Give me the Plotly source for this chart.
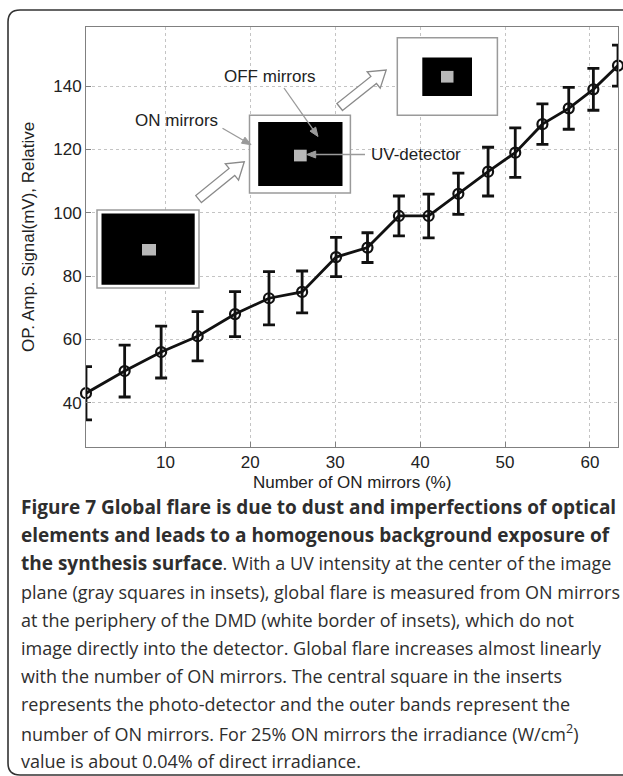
import math
import plotly.graph_objects as go

# ---------------- data ----------------
on_mirrors_pct = [0.65, 5.2, 9.5, 13.8, 18.2, 22.2, 26.1, 30.1, 33.8, 37.5,
                  41.0, 44.5, 48.0, 51.2, 54.4, 57.5, 60.4, 63.3]
signal_mv = [43, 50, 56, 61, 68, 73, 75, 86, 89, 99,
             99, 106, 113, 119, 128, 133, 139, 146.5]
signal_err = [8.4, 8.2, 8.2, 7.8, 7.1, 8.4, 6.6, 6.2, 4.7, 6.3,
              6.9, 6.5, 7.7, 7.8, 6.4, 6.6, 6.6, 6.5]
x_tick_vals = [10, 20, 30, 40, 50, 60]
y_tick_vals = [40, 60, 80, 100, 120, 140]

x_title = "Number of ON mirrors (%)"
y_title = "OP. Amp. Signal(mV), Relative"
BOLD = '<span style="font-size:19px"><b>{}</b></span>'
caption_lines = [
    BOLD.format("Figure 7 Global flare is due to dust and imperfections of optical"),
    BOLD.format("elements and leads to a homogenous background exposure of"),
    BOLD.format("the synthesis surface") + ". With a UV intensity at the center of the image",
    "plane (gray squares in insets), global flare is measured from ON mirrors",
    "at the periphery of the DMD (white border of insets), which do not",
    "image directly into the detector. Global flare increases almost linearly",
    "with the number of ON mirrors. The central square in the inserts",
    "represents the photo-detector and the outer bands represent the",
    "number of ON mirrors. For 25% ON mirrors the irradiance (W/cm<sup>2</sup>)",
    "value is about 0.04% of direct irradiance.",
]

# ---------------- geometry ----------------
W, H = 623, 776
L, R, T, B = 86, 618, 27, 447
XR = [0.65, 63.3]
YR = [26, 158.7]


def dx(px):
    return XR[0] + (px - L) / (R - L) * (XR[1] - XR[0])


def dy(py):
    return YR[0] + (B - py) / (B - T) * (YR[1] - YR[0])


def ppx(px):
    return (px - L) / (R - L)


def ppy(py):
    return (B - py) / (B - T)


fig = go.Figure()

fig.add_trace(go.Scatter(
    x=on_mirrors_pct, y=signal_mv,
    mode="lines+markers",
    line=dict(color="#111111", width=2.8),
    marker=dict(symbol="circle-open", size=10, color="#111111",
                line=dict(width=2.2, color="#111111")),
    error_y=dict(type="data", array=signal_err, visible=True,
                 color="#111111", thickness=2.8, width=6),
    cliponaxis=False,
    showlegend=False,
))

shapes = []
# outer rounded frame
fl, ft, fr, fb, rad = 8, 10, 660, 775, 12
path = (f"M {ppx(fl)},{ppy(ft+rad)} Q {ppx(fl)},{ppy(ft)} {ppx(fl+rad)},{ppy(ft)} "
        f"L {ppx(fr)},{ppy(ft)} L {ppx(fr)},{ppy(fb)} L {ppx(fl+rad)},{ppy(fb)} "
        f"Q {ppx(fl)},{ppy(fb)} {ppx(fl)},{ppy(fb-rad)} Z")
shapes.append(dict(type="path", xref="paper", yref="paper", path=path,
                   line=dict(color="#333333", width=1.6), layer="below"))


def rect(x0, y0, x1, y1, fill, line_color=None, lw=0):
    return dict(type="rect", xref="x", yref="y",
                x0=dx(x0), x1=dx(x1), y0=dy(y0), y1=dy(y1),
                fillcolor=fill, layer="above",
                line=dict(color=line_color or fill, width=lw))


insets = [
    ((97, 210, 199, 288), (101.5, 213.5, 194.7, 284.8), (142, 244, 156, 255.5)),
    ((249.5, 115.2, 350.4, 193.1), (258.2, 121.9, 342.5, 186.1), (294, 149.7, 306.7, 161.4)),
    ((397.3, 37.7, 497.4, 115.2), (422.3, 57.6, 472, 96.0), (441, 70.9, 453.5, 82.6)),
]
for outer, inner, det in insets:
    shapes.append(rect(*outer, "white", "#9a9a9a", 1.5))
    shapes.append(rect(*inner, "black"))
    shapes.append(rect(*det, "#b8b8b8"))


def poly(pts, fill, line_color, lw):
    p = "M " + " L ".join(f"{dx(a)},{dy(b)}" for a, b in pts) + " Z"
    return dict(type="path", xref="x", yref="y", path=p, fillcolor=fill,
                line=dict(color=line_color, width=lw), layer="above")


def block_arrow(tail, tip, w1=4.5, w2=10.5, hl=16):
    vx, vy = tip[0] - tail[0], tip[1] - tail[1]
    ln = math.hypot(vx, vy)
    ux, uy = vx / ln, vy / ln
    nx, ny = -uy, ux
    bx, by = tip[0] - ux * hl, tip[1] - uy * hl
    pts = [
        (tail[0] + nx * w1, tail[1] + ny * w1),
        (bx + nx * w1, by + ny * w1),
        (bx + nx * w2, by + ny * w2),
        tip,
        (bx - nx * w2, by - ny * w2),
        (bx - nx * w1, by - ny * w1),
        (tail[0] - nx * w1, tail[1] - ny * w1),
    ]
    return poly(pts, "white", "#8a8a8a", 1.3)


def thin_arrow(tail, tip, hw=3.5, hl=9):
    vx, vy = tip[0] - tail[0], tip[1] - tail[1]
    ln = math.hypot(vx, vy)
    ux, uy = vx / ln, vy / ln
    nx, ny = -uy, ux
    bx, by = tip[0] - ux * hl, tip[1] - uy * hl
    line = dict(type="line", xref="x", yref="y",
                x0=dx(tail[0]), y0=dy(tail[1]), x1=dx(bx), y1=dy(by),
                line=dict(color="#9a9a9a", width=1.3), layer="above")
    head = poly([(bx + nx * hw, by + ny * hw), tip, (bx - nx * hw, by - ny * hw)],
                "#9a9a9a", "#9a9a9a", 1)
    return [line, head]


shapes.append(block_arrow((198.6, 199.1), (244.3, 161.8)))
shapes.append(block_arrow((339.7, 107.0), (386.2, 70.0)))
shapes += thin_arrow((222.5, 128.2), (251, 144.7))
shapes += thin_arrow((284, 88), (318, 136.5))
shapes += thin_arrow((365, 154.5), (306.7, 154.5))

annotations = []
lab_font = dict(family="Liberation Sans, Arial", size=17, color="#222222")
for text, (tx, ty) in [("ON mirrors", (176.8, 120.3)),
                       ("OFF mirrors", (270, 76.6)),
                       ("UV-detector", (416, 154.5))]:
    annotations.append(dict(x=dx(tx), y=dy(ty), xref="x", yref="y", text=text,
                            showarrow=False, font=lab_font,
                            xanchor="center", yanchor="middle"))

ax_font = dict(family="Liberation Sans, Arial", size=17, color="#222222")
annotations.append(dict(x=ppx(352), y=ppy(483), xref="paper", yref="paper",
                        text=x_title, showarrow=False, font=ax_font,
                        xanchor="center", yanchor="middle"))
annotations.append(dict(x=ppx(28), y=ppy(237), xref="paper", yref="paper",
                        text=y_title, showarrow=False, font=ax_font, textangle=-90,
                        xanchor="center", yanchor="middle"))

cap_font = dict(family="Open Sans", size=18, color="#2e2e2e")
cap_y0, cap_dy = 507, 28.2
for i, line in enumerate(caption_lines):
    annotations.append(dict(x=ppx(19), y=ppy(cap_y0 + i * cap_dy),
                            xref="paper", yref="paper", text=line,
                            showarrow=False, font=cap_font,
                            xanchor="left", yanchor="middle", align="left"))

axis_common = dict(showline=True, mirror=True, linecolor="#808080", linewidth=1,
                   ticks="inside", ticklen=5, tickcolor="#808080",
                   showgrid=True, gridcolor="#c4c4c4", gridwidth=1, griddash="dot",
                   zeroline=False, tickfont=ax_font)

fig.update_layout(
    width=W, height=H,
    margin=dict(l=L, r=W - R, t=T, b=H - B),
    paper_bgcolor="white", plot_bgcolor="white",
    xaxis=dict(range=XR, tickvals=x_tick_vals, **axis_common),
    yaxis=dict(range=YR, tickvals=y_tick_vals, **axis_common),
    shapes=shapes, annotations=annotations,
)

fig.write_html("out.html")
